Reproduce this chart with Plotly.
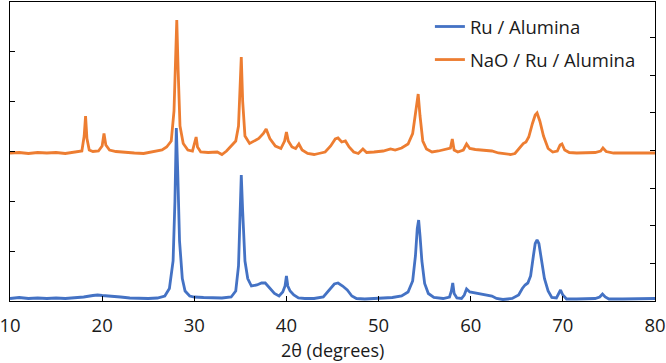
import plotly.graph_objects as go

# Ru / Alumina (2theta, intensity in left-axis units)
ru_x = [10.0, 11.0, 12.0, 13.0, 14.0, 15.0, 16.0, 17.0, 18.0, 19.0, 19.5, 20.0, 21.0, 22.0, 23.0, 24.0, 25.0, 26.0,
        26.8, 27.3, 27.7, 27.9, 28.05, 28.2, 28.4, 28.7, 29.0, 29.5, 30.0, 31.0, 32.0, 33.0, 34.0, 34.5, 34.8,
        35.0, 35.1, 35.25, 35.5, 35.8, 36.2, 36.8, 37.3, 37.7, 38.2, 38.7, 39.2, 39.6, 39.85, 40.0, 40.15,
        40.4, 40.8, 41.3, 42.0, 43.0, 44.0, 44.6, 45.2, 45.6, 46.1, 46.6, 47.1, 47.6, 48.5, 49.5, 50.5, 51.5,
        52.5, 53.2, 53.7, 54.0, 54.2, 54.35, 54.5, 54.7, 55.0, 55.4, 56.0, 57.0, 57.7, 57.9, 58.05, 58.2, 58.5,
        59.0, 59.3, 59.55, 59.9, 60.5, 61.2, 61.8, 62.3, 62.8, 63.5, 64.5, 65.2, 65.6, 65.9, 66.2, 66.5, 66.8,
        67.0, 67.2, 67.4, 67.7, 68.0, 68.4, 68.8, 69.3, 69.55, 69.75, 70.0, 70.4, 71.5, 72.5, 73.5, 74.0, 74.3,
        74.6, 75.0, 76.5, 78.0, 80.0]
ru_y = [0.05, 0.07, 0.05, 0.06, 0.05, 0.06, 0.05, 0.06, 0.08, 0.11, 0.12, 0.11, 0.10, 0.08, 0.06, 0.05, 0.05, 0.06,
        0.10, 0.25, 0.8, 2.0, 3.46, 2.6, 1.2, 0.45, 0.2, 0.1, 0.08, 0.07, 0.06, 0.06, 0.08, 0.2, 0.7,
        2.0, 2.52, 1.8, 0.8, 0.45, 0.3, 0.32, 0.36, 0.36, 0.26, 0.15, 0.1, 0.18, 0.3, 0.5, 0.3,
        0.2, 0.12, 0.06, 0.05, 0.05, 0.08, 0.2, 0.34, 0.36, 0.3, 0.22, 0.1, 0.05, 0.04, 0.05, 0.06, 0.07,
        0.1, 0.18, 0.4, 0.9, 1.45, 1.62, 1.3, 0.8, 0.35, 0.15, 0.07, 0.05, 0.08, 0.2, 0.36, 0.15, 0.06,
        0.05, 0.12, 0.24, 0.18, 0.16, 0.15, 0.13, 0.1, 0.05, 0.03, 0.05, 0.12, 0.25, 0.32, 0.36, 0.5, 0.9,
        1.15, 1.22, 1.15, 0.8, 0.45, 0.2, 0.07, 0.06, 0.15, 0.22, 0.12, 0.04, 0.04, 0.04, 0.05, 0.08, 0.14,
        0.08, 0.04, 0.04, 0.04, 0.05]

# NaO / Ru / Alumina (offset pattern)
nao_x = [10.0, 11.0, 12.0, 13.0, 14.0, 15.0, 16.0, 17.0, 17.8, 18.05, 18.2, 18.35, 18.6, 19.0, 19.6, 20.0, 20.2,
         20.4, 20.8, 21.5, 22.5, 23.5, 24.5, 25.5, 26.5, 27.0, 27.5, 27.8, 28.0, 28.1, 28.25, 28.45, 28.8,
         29.3, 29.8, 30.05, 30.2, 30.35, 30.7, 31.5, 32.5, 33.0, 33.5, 34.0, 34.5, 34.8, 35.0, 35.1, 35.25,
         35.5, 36.0, 36.5, 37.0, 37.5, 37.8, 38.2, 38.8, 39.4, 39.8, 40.0, 40.2, 40.6, 41.0, 41.35, 41.7,
         42.3, 43.0, 43.5, 44.2, 44.8, 45.3, 45.6, 46.0, 46.4, 46.8, 47.3, 47.8, 48.3, 48.7, 49.5, 50.5,
         51.3, 51.8, 52.5, 53.2, 53.7, 54.0, 54.3, 54.5, 54.8, 55.2, 55.8, 56.5, 57.3, 57.8, 58.0, 58.2,
         58.6, 59.2, 59.55, 59.9, 60.5, 61.5, 62.3, 63.0, 63.5, 64.3, 64.8, 65.3, 65.7, 66.0, 66.3, 66.7,
         67.0, 67.2, 67.5, 67.9, 68.4, 68.9, 69.4, 69.7, 69.9, 70.2, 70.7, 71.5, 72.5, 73.5, 74.1, 74.35,
         74.7, 75.5, 77.0, 78.5, 80.0]
nao_y = [2.96, 2.97, 2.95, 2.97, 2.96, 2.97, 2.95, 2.97, 3.0, 3.3, 3.7, 3.25, 3.02, 2.99, 3.0, 3.1, 3.35,
         3.12, 3.02, 2.99, 2.97, 2.96, 2.95, 2.98, 3.02, 3.08, 3.2, 3.8, 5.0, 5.62, 4.6, 3.5, 3.15,
         3.02, 3.0, 3.15, 3.28, 3.08, 2.98, 2.97, 2.98, 2.93, 3.0, 3.1, 3.2, 3.5, 4.4, 4.88, 4.0,
         3.3, 3.15, 3.2, 3.25, 3.35, 3.44, 3.25, 3.1, 3.05, 3.2, 3.38, 3.2, 3.08, 3.05, 3.14, 3.02,
         2.95, 2.93, 2.95, 2.98, 3.1, 3.24, 3.26, 3.18, 3.2, 3.08, 2.98, 2.95, 3.04, 2.97, 2.98, 3.0,
         3.04, 3.02, 3.06, 3.14, 3.35, 3.7, 4.14, 3.7, 3.2, 3.04, 2.98, 3.0, 3.03, 3.06, 3.24, 3.02,
         2.98, 3.02, 3.14, 3.05, 3.03, 3.02, 3.0, 2.96, 2.95, 2.93, 2.95, 3.05, 3.15, 3.18, 3.28, 3.55,
         3.72, 3.76, 3.6, 3.3, 3.05, 2.98, 3.0, 3.12, 3.14, 3.02, 2.97, 2.96, 2.97, 2.97, 3.0, 3.06,
         2.99, 2.96, 2.96, 2.96, 2.96]

x_ticks = [10, 20, 30, 40, 50, 60, 70, 80]
x_title = "2θ (degrees)"

FONT = "Open Sans"
TXT = "#1a1a1a"

fig = go.Figure()
fig.add_trace(go.Scatter(x=nao_x, y=nao_y, mode="lines", name="NaO / Ru / Alumina",
                         line=dict(color="#ED7D31", width=2.8), legendrank=2, legendgroup="b"))
fig.add_trace(go.Scatter(x=ru_x, y=ru_y, mode="lines", name="Ru / Alumina",
                         line=dict(color="#4472C4", width=2.8), legendrank=1, legendgroup="a"))
fig.add_trace(go.Scatter(x=[None], y=[None], yaxis="y2", showlegend=False, hoverinfo="skip"))

fig.update_layout(
    width=666, height=363,
    margin=dict(l=10, r=11, t=2, b=62),
    paper_bgcolor="white", plot_bgcolor="white",
    font=dict(family=FONT, size=18.5, color=TXT),
    xaxis=dict(range=[10, 80], tickvals=x_ticks, ticktext=[str(v) for v in x_ticks],
               ticks="inside", ticklen=5, tickcolor="black", showline=True, linecolor="black",
               linewidth=1, mirror=True, showgrid=False, zeroline=False,
               tickfont=dict(family=FONT, size=18.5, color=TXT), ticklabelstandoff=8,
               ticklabeloverflow="allow", automargin=False),
    yaxis=dict(range=[0, 5.98], dtick=1, tick0=0, ticks="inside", ticklen=5, tickcolor="black",
               showticklabels=False, showline=True, linecolor="black", linewidth=1,
               showgrid=False, zeroline=False, automargin=False),
    yaxis2=dict(range=[0, 7.95], dtick=1, tick0=0, overlaying="y", side="right", ticks="inside",
                ticklen=5, tickcolor="black", showticklabels=False, showline=True, linecolor="black",
                linewidth=1, showgrid=False, zeroline=False, automargin=False),
    legend=dict(x=0.651, xanchor="left", y=0.98, yanchor="top", bgcolor="rgba(0,0,0,0)",
                traceorder="grouped", tracegroupgap=6,
                font=dict(family=FONT, size=18.5, color=TXT)),
    showlegend=True,
    annotations=[dict(text=x_title, xref="paper", yref="paper", x=0.5, xanchor="center",
                      y=-0.2057, yanchor="bottom", showarrow=False, borderpad=0,
                      font=dict(family=FONT, size=18, color=TXT))],
)

fig.write_html("out.html")
